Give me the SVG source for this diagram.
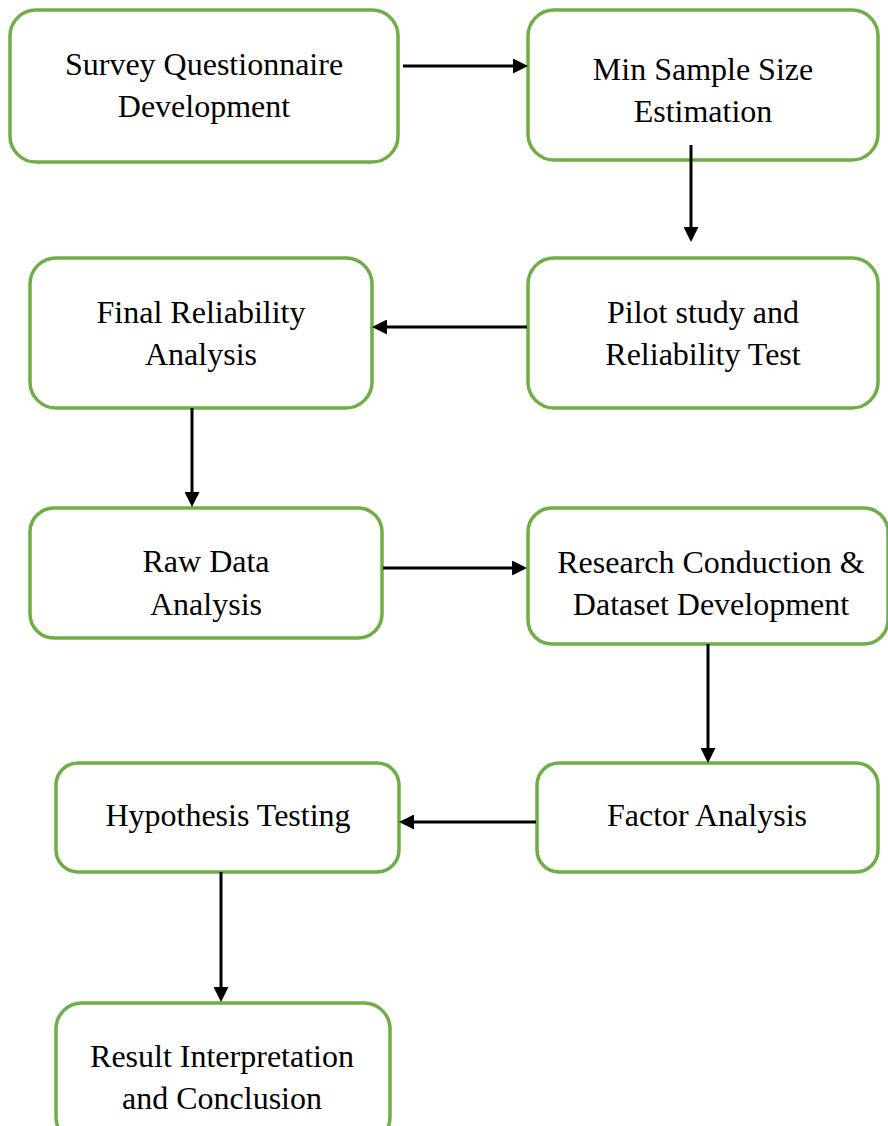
<svg xmlns="http://www.w3.org/2000/svg" width="888" height="1126" viewBox="0 0 888 1126">
  <style>
    .box { fill: #ffffff; stroke: #70ad47; stroke-width: 3.5; }
    .lbl { font-family: "Liberation Serif", "Times New Roman", serif; font-size: 32px; fill: #000000; text-anchor: middle; }
    .conn { stroke: #000000; stroke-width: 3; fill: none; marker-end: url(#arrow); }
  </style>
  <defs>
    <marker id="arrow" markerUnits="userSpaceOnUse" viewBox="0 0 15 15" markerWidth="15" markerHeight="15" refX="1" refY="7.5" orient="auto">
      <path d="M0,0 L15,7.5 L0,15 z" fill="#000000"/>
    </marker>
  </defs>
  <rect width="888" height="1126" fill="#ffffff"/>

  <g id="survey-questionnaire">
    <rect class="box" x="10" y="10" width="388" height="152" rx="26"/>
    <text class="lbl" x="204" y="75">Survey Questionnaire</text>
    <text class="lbl" x="204" y="117">Development</text>
  </g>

  <g id="min-sample-size">
    <rect class="box" x="528" y="10" width="350" height="150" rx="26"/>
    <text class="lbl" x="703" y="80">Min Sample Size</text>
    <text class="lbl" x="703" y="122">Estimation</text>
  </g>

  <g id="pilot-study">
    <rect class="box" x="528" y="258" width="350" height="150" rx="26"/>
    <text class="lbl" x="703" y="323">Pilot study and</text>
    <text class="lbl" x="703" y="365">Reliability Test</text>
  </g>

  <g id="final-reliability">
    <rect class="box" x="30" y="258" width="342" height="150" rx="26"/>
    <text class="lbl" x="201" y="323">Final Reliability</text>
    <text class="lbl" x="201" y="365">Analysis</text>
  </g>

  <g id="raw-data">
    <rect class="box" x="30" y="508" width="352" height="130" rx="24"/>
    <text class="lbl" x="206" y="572">Raw Data</text>
    <text class="lbl" x="206" y="615">Analysis</text>
  </g>

  <g id="research-conduction">
    <rect class="box" x="528" y="508" width="360" height="136" rx="24"/>
    <text class="lbl" x="711" y="573">Research Conduction &amp;</text>
    <text class="lbl" x="711" y="615">Dataset Development</text>
  </g>

  <g id="factor-analysis">
    <rect class="box" x="537" y="763" width="341" height="109" rx="22"/>
    <text class="lbl" x="707" y="826">Factor Analysis</text>
  </g>

  <g id="hypothesis-testing">
    <rect class="box" x="56" y="763" width="343" height="109" rx="22"/>
    <text class="lbl" x="228" y="826">Hypothesis Testing</text>
  </g>

  <g id="result-interpretation">
    <rect class="box" x="56" y="1003" width="334" height="140" rx="26"/>
    <text class="lbl" x="222" y="1067">Result Interpretation</text>
    <text class="lbl" x="222" y="1109">and Conclusion</text>
  </g>

  <g id="connectors">
    <line class="conn" x1="403" y1="66" x2="514" y2="66"/>
    <line class="conn" x1="691" y1="145" x2="691" y2="228"/>
    <line class="conn" x1="527" y1="327" x2="386" y2="327"/>
    <line class="conn" x1="192" y1="408" x2="192" y2="493"/>
    <line class="conn" x1="383" y1="568" x2="513" y2="568"/>
    <line class="conn" x1="708" y1="644" x2="708" y2="749"/>
    <line class="conn" x1="536" y1="822" x2="413" y2="822"/>
    <line class="conn" x1="221" y1="872" x2="221" y2="988"/>
  </g>
</svg>
